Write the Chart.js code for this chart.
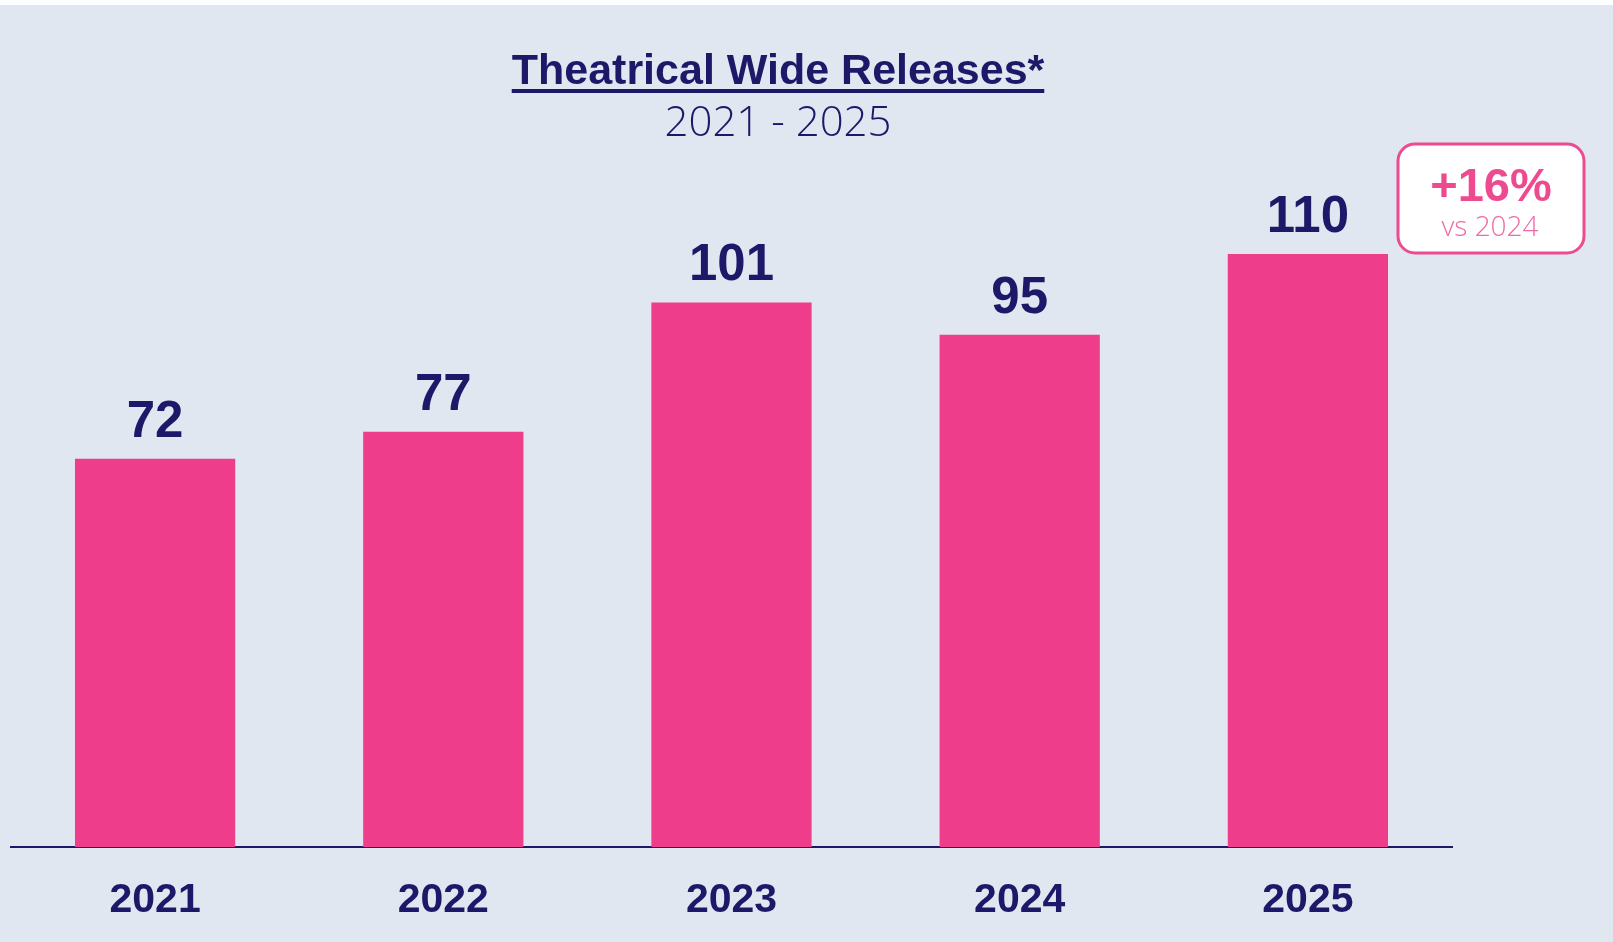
<!DOCTYPE html>
<html lang="en">
<head>
    <meta charset="UTF-8">
    <title>Theatrical Wide Releases</title>
    <script src="https://cdn.jsdelivr.net/npm/chart.js"></script>
    <style>
        body { margin: 0; background: #e1e7f1; }
        .topstrip { position: absolute; left: 0; top: 0; width: 1613px; height: 5px; background: #fff; }
        .wrap { position: absolute; left: 0; top: 0; width: 1613px; height: 942px; }
    </style>
</head>
<body>
    <div class="wrap"><canvas id="releasesChart"></canvas></div>
    <div class="topstrip"></div>

    <script>
        const years = ['2021', '2022', '2023', '2024', '2025'];
        const releases = [72, 77, 101, 95, 110];
        const chartTitle = 'Theatrical Wide Releases*';
        const chartSubtitle = '2021 - 2025';
        const changeLabel = '+16%';
        const changeNote = 'vs 2024';

        const navy = '#1e1868';
        const pink = '#ee3d8b';

        // value labels above each bar
        const valueLabels = {
            id: 'valueLabels',
            afterDatasetsDraw(chart) {
                const ctx = chart.ctx;
                const meta = chart.getDatasetMeta(0);
                ctx.save();
                ctx.fillStyle = navy;
                ctx.font = 'bold 51px "Liberation Sans", Arial, sans-serif';
                ctx.textAlign = 'center';
                ctx.textBaseline = 'alphabetic';
                meta.data.forEach((bar, i) => {
                    ctx.fillText(releases[i], bar.x, bar.y - 22);
                });
                ctx.restore();
            }
        };

        // title, subtitle and the change callout
        const headerText = {
            id: 'headerText',
            afterDraw(chart) {
                const ctx = chart.ctx;
                ctx.save();
                ctx.textAlign = 'center';
                ctx.textBaseline = 'alphabetic';

                ctx.fillStyle = navy;
                ctx.font = 'bold 43px "Liberation Sans", Arial, sans-serif';
                ctx.fillText(chartTitle, 778, 84);
                const w = ctx.measureText(chartTitle).width;
                ctx.fillRect(778 - w / 2, 89, w, 4);

                ctx.font = '300 42px "Open Sans", sans-serif';
                ctx.fillText(chartSubtitle, 778, 136);

                // callout box
                ctx.beginPath();
                ctx.roundRect(1398, 144, 186, 109, 17);
                ctx.fillStyle = '#ffffff';
                ctx.fill();
                ctx.lineWidth = 3;
                ctx.strokeStyle = '#ee4a90';
                ctx.stroke();

                ctx.fillStyle = '#ee4a90';
                ctx.font = 'bold 47px "Liberation Sans", Arial, sans-serif';
                ctx.fillText(changeLabel, 1491, 201);
                ctx.fillStyle = '#f06aa6';
                ctx.font = '300 28px "Open Sans", sans-serif';
                ctx.fillText(changeNote, 1490, 236);
                ctx.restore();
            }
        };

        new Chart(document.getElementById('releasesChart'), {
            type: 'bar',
            data: {
                labels: years,
                datasets: [{
                    data: releases,
                    backgroundColor: pink,
                    categoryPercentage: 1,
                    barPercentage: 0.556
                }]
            },
            options: {
                responsive: true,
                maintainAspectRatio: false,
                animation: false,
                layout: { padding: { left: 11, right: 161, top: 200, bottom: 0 } },
                plugins: {
                    legend: { display: false },
                    tooltip: { enabled: false }
                },
                scales: {
                    x: {
                        afterFit: (scale) => { scale.height = 95; },
                        grid: { display: false },
                        border: { display: true, color: navy, width: 2 },
                        ticks: {
                            color: navy,
                            padding: 25.5,
                            font: { family: '"Liberation Sans", Arial, sans-serif', size: 41, weight: 'bold', lineHeight: 1.0 }
                        }
                    },
                    y: {
                        display: false,
                        min: 0,
                        max: 120
                    }
                }
            },
            plugins: [valueLabels, headerText]
        });
    </script>
</body>
</html>
